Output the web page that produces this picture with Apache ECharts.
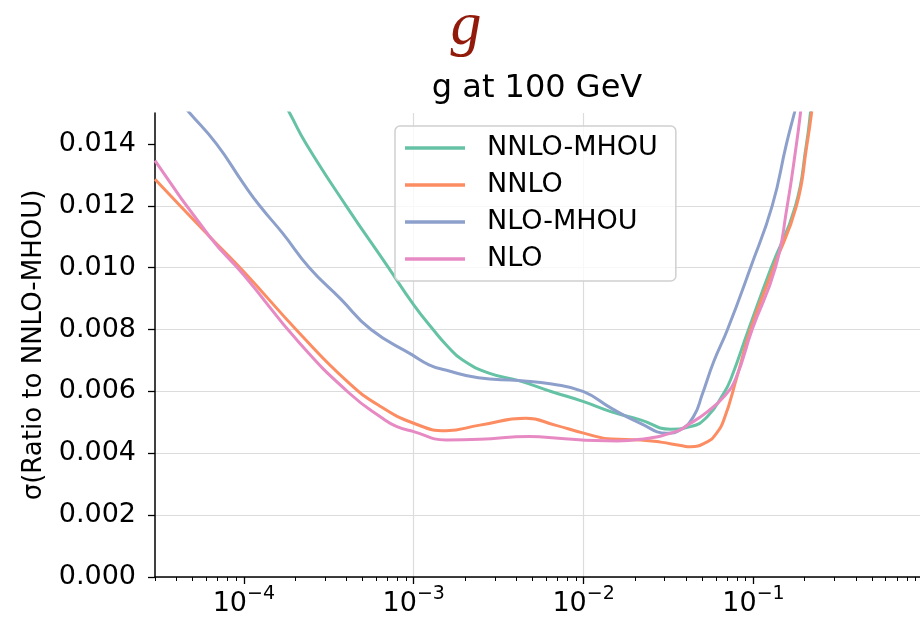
<!DOCTYPE html>
<html>
<head>
<meta charset="utf-8">
<script src="https://cdn.jsdelivr.net/npm/echarts@6/dist/echarts.min.js"></script>
<style>
  html, body { margin: 0; padding: 0; background: #ffffff; }
  #chart { width: 920px; height: 620px; }
</style>
</head>
<body>
<div id="chart"></div>
<script>
// Series names and colours (Set2 palette)
const seriesNames = ['NNLO-MHOU', 'NNLO', 'NLO-MHOU', 'NLO'];
const seriesColors = ['#66c2a5', '#fc8d62', '#8da0cb', '#e78ac3'];

// Gluon uncertainty, [x, sigma] pairs
const nnloMhou = [
  [1.41e-4, 0.0162], [1.86e-4, 0.0150], [2.33e-4, 0.0140], [4.0e-4, 0.0120],
  [7.1e-4, 0.0100], [1.0e-3, 0.0088], [1.3e-3, 0.0080], [1.58e-3, 0.00746],
  [1.93e-3, 0.00702], [2.77e-3, 0.00659], [4.15e-3, 0.00635], [6.5e-3, 0.00599],
  [1.0e-2, 0.00567], [1.46e-2, 0.00534], [2.16e-2, 0.00508], [3.25e-2, 0.00478],
  [4.26e-2, 0.00486], [5.34e-2, 0.00518], [6.69e-2, 0.00595], [7.32e-2, 0.00637],
  [9.35e-2, 0.0080], [0.127, 0.0100], [0.1766, 0.0120], [0.205, 0.0140],
  [0.2163, 0.0150], [0.232, 0.0165]
];
const nnlo = [
  [3.0e-5, 0.01286], [6.3e-5, 0.0110], [1.0e-4, 0.00987], [2.12e-4, 0.00789],
  [4.18e-4, 0.00626], [6.3e-4, 0.00553], [1.0e-3, 0.00497], [1.55e-3, 0.00473],
  [2.45e-3, 0.00491], [4.57e-3, 0.00513], [6.8e-3, 0.00491], [1.0e-2, 0.00465],
  [1.46e-2, 0.00446], [2.16e-2, 0.00443], [2.84e-2, 0.00436], [3.73e-2, 0.00425],
  [4.26e-2, 0.00421], [5.34e-2, 0.00437], [5.97e-2, 0.0046], [6.69e-2, 0.00508],
  [8.02e-2, 0.0065], [9.6e-2, 0.0080], [0.131, 0.0100], [0.179, 0.0120],
  [0.2066, 0.0140], [0.2195, 0.0150], [0.235, 0.0165]
];
const nloMhou = [
  [3.0e-5, 0.0163], [4.8e-5, 0.0150], [6.9e-5, 0.0140], [1.0e-4, 0.0127],
  [1.24e-4, 0.0120], [1.7e-4, 0.0111], [2.43e-4, 0.0100], [3.7e-4, 0.0090],
  [5.6e-4, 0.0080], [9.8e-4, 0.00718], [1.23e-3, 0.00686],
  [1.54e-3, 0.00669], [2.4e-3, 0.00644], [4.15e-3, 0.00635], [6.5e-3, 0.00624],
  [1.0e-2, 0.00599], [1.46e-2, 0.00545], [2.16e-2, 0.00497], [3.1e-2, 0.00465],
  [3.72e-2, 0.00476], [4.45e-2, 0.0052], [4.99e-2, 0.0059], [5.82e-2, 0.00695],
  [7.03e-2, 0.0080], [9.6e-2, 0.0100], [0.1288, 0.0120], [0.1563, 0.0140],
  [0.174, 0.0150], [0.189, 0.0158]
];
const nlo = [
  [3.0e-5, 0.01346], [6.3e-5, 0.0110], [1.0e-4, 0.00976], [2.12e-4, 0.00757],
  [4.18e-4, 0.00594], [6.55e-4, 0.00513], [7.9e-4, 0.00487], [1.0e-3, 0.0047],
  [1.55e-3, 0.00443], [2.45e-3, 0.00445], [4.8e-3, 0.00454], [7.4e-3, 0.00448],
  [1.17e-2, 0.00441], [1.58e-2, 0.0044], [2.16e-2, 0.00445], [3.48e-2, 0.0047],
  [4.26e-2, 0.00497], [5.34e-2, 0.00534], [6.69e-2, 0.00583], [7.84e-2, 0.0064],
  [9.82e-2, 0.0080], [0.1346, 0.0100], [0.158, 0.0120], [0.179, 0.0140],
  [0.189, 0.0150], [0.20, 0.0162]
];

// Axis ranges and ticks
const xRange = [3e-5, 0.955];
const xMajorExponents = [-4, -3, -2, -1];
const yTicks = [0, 0.002, 0.004, 0.006, 0.008, 0.010, 0.012, 0.014];
const yRange = [0, 0.015];

const FONT = 'DejaVu Sans';
const lg = Math.log10;
const xMin = lg(xRange[0]);
const xMax = lg(xRange[1]);

// log-spaced minor ticks (2..9 x 10^k) inside the x range
const xMinorTicks = [];
for (let d = -5; d <= 0; d++) {
  for (let k = 2; k <= 9; k++) {
    let v = lg(k) + d;
    if (Math.abs(v - xMin) < 1e-9) v = xMin;
    if (v >= xMin && v <= xMax) xMinorTicks.push(v);
  }
}

const toLog = arr => arr.map(p => [lg(p[0]), p[1]]);
const allData = [nnloMhou, nnlo, nloMhou, nlo];

const chart = echarts.init(document.getElementById('chart'), null, { renderer: 'canvas' });

chart.setOption({
  animation: false,
  backgroundColor: '#ffffff',
  textStyle: { fontFamily: FONT },
  title: [
    {
      text: 'g',
      left: 466, top: -3, padding: 0, textAlign: 'center',
      textStyle: {
        fontFamily: 'Liberation Serif', fontStyle: 'italic', fontWeight: 'normal',
        fontSize: 62, color: '#921a0a'
      }
    },
    {
      text: 'g at 100 GeV',
      left: 537, top: 73, padding: 0, textAlign: 'center',
      textStyle: { fontFamily: FONT, fontWeight: 'normal', fontSize: 32, color: '#000' }
    }
  ],
  grid: { left: 155, right: 0, top: 113, bottom: 43, containLabel: false },
  legend: {
    orient: 'vertical',
    left: 395, top: 126,
    data: seriesNames,
    icon: 'rect',
    itemWidth: 60, itemHeight: 3.5,
    itemGap: 7,
    padding: [7, 18, 7, 10],
    backgroundColor: 'rgba(255,255,255,0.8)',
    borderColor: '#d0d0d0', borderWidth: 1.5, borderRadius: 5,
    formatter: name => '{gap|}' + name,
    textStyle: {
      fontFamily: FONT, fontSize: 27, color: '#000', lineHeight: 30,
      rich: { gap: { width: 17 } }
    }
  },
  xAxis: [
    {
      type: 'value',
      min: xMin, max: xMax,
      minInterval: 1, maxInterval: 1,
      axisLine: { show: true, onZero: false, lineStyle: { color: '#000', width: 1.5 } },
      axisTick: {
        show: true, customValues: xMajorExponents, length: 7,
        lineStyle: { color: '#000', width: 1.3 }
      },
      axisLabel: {
        customValues: xMajorExponents,
        margin: 8,
        color: '#000',
        formatter: v => '{b|10}{s|\u2212' + Math.abs(Math.round(v)) + '}',
        rich: {
          b: { fontFamily: FONT, fontSize: 27, color: '#000', lineHeight: 32, verticalAlign: 'bottom' },
          s: { fontFamily: FONT, fontSize: 19, color: '#000', lineHeight: 32, verticalAlign: 'top' }
        }
      },
      splitLine: {
        show: true, showMinLine: false, showMaxLine: false,
        lineStyle: { color: '#dcdcdc', width: 1.2 }
      }
    },
    {
      type: 'value',
      min: xMin, max: xMax,
      position: 'bottom',
      axisLine: { show: false },
      axisTick: {
        show: true, customValues: xMinorTicks, length: 4,
        lineStyle: { color: '#000', width: 1 }
      },
      axisLabel: { show: false },
      splitLine: { show: false }
    }
  ],
  yAxis: {
    type: 'value',
    min: yRange[0], max: yRange[1], interval: 0.002,
    name: '\u03c3(Ratio to NNLO-MHOU)',
    nameLocation: 'middle',
    nameGap: 108,
    nameTextStyle: { fontFamily: FONT, fontSize: 26, color: '#000' },
    axisLine: { show: true, lineStyle: { color: '#000', width: 1.5 } },
    axisTick: {
      show: true, customValues: yTicks, length: 7,
      lineStyle: { color: '#000', width: 1.3 }
    },
    axisLabel: {
      customValues: yTicks,
      margin: 19,
      fontFamily: FONT, fontSize: 27, color: '#000',
      formatter: v => v.toFixed(3)
    },
    splitLine: {
      show: true, showMaxLine: false,
      lineStyle: { color: '#dcdcdc', width: 1.2 }
    }
  },
  series: seriesNames.map((name, i) => ({
    name,
    type: 'line',
    xAxisIndex: 0,
    data: toLog(allData[i]),
    showSymbol: false,
    symbol: 'none',
    smooth: 0.5,
    clip: true,
    lineStyle: { color: seriesColors[i], width: 3 },
    itemStyle: { color: seriesColors[i] }
  }))
});
</script>
</body>
</html>
